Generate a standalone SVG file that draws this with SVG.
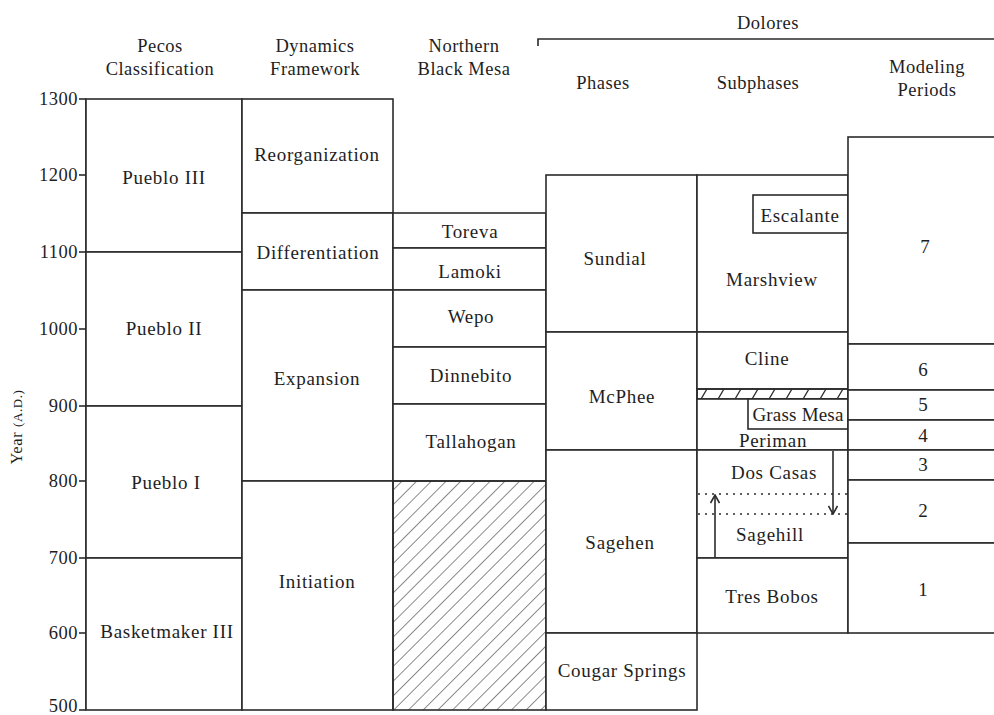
<svg xmlns="http://www.w3.org/2000/svg" width="994" height="715" viewBox="0 0 994 715">
<defs>
<style>
.b{fill:#fff;stroke:#2b2b2b;stroke-width:1.6}
.n{fill:none;stroke:#2b2b2b;stroke-width:1.6}
.t{font-family:"Liberation Serif","Times New Roman",serif;font-size:19px;fill:#1e1e1e;text-anchor:middle;letter-spacing:0.7px}
.h{font-family:"Liberation Serif","Times New Roman",serif;font-size:18.5px;fill:#1e1e1e;text-anchor:middle;letter-spacing:0.5px}
.y{font-family:"Liberation Serif","Times New Roman",serif;font-size:18.5px;fill:#1e1e1e;text-anchor:end;letter-spacing:0.5px}
.d{font-family:"Liberation Serif","Times New Roman",serif;font-size:19px;fill:#1e1e1e;text-anchor:middle}
.dot{fill:none;stroke:#2b2b2b;stroke-width:1.4;stroke-dasharray:2 5}
</style>
<pattern id="hatch" width="10.4" height="10.4" patternUnits="userSpaceOnUse" patternTransform="rotate(45)">
<line x1="0" y1="0" x2="0" y2="10.4" stroke="#2b2b2b" stroke-width="1.1"/>
</pattern>
<pattern id="band" x="697" y="389" width="17" height="10" patternUnits="userSpaceOnUse">
<line x1="4" y1="10" x2="10" y2="0" stroke="#2b2b2b" stroke-width="1.3"/>
</pattern>
<marker id="chev" viewBox="0 0 10 10" refX="9" refY="5" markerWidth="10" markerHeight="10" markerUnits="userSpaceOnUse" orient="auto">
<path d="M1,0.5 L9,5 L1,9.5" fill="none" stroke="#2b2b2b" stroke-width="1.6"/>
</marker>
</defs>
<rect x="0" y="0" width="994" height="715" fill="#fff"/>

<g id="headers">
<text class="h" x="160" y="52">Pecos</text>
<text class="h" x="160" y="75">Classification</text>
<text class="h" x="315" y="52">Dynamics</text>
<text class="h" x="315" y="75">Framework</text>
<text class="h" x="464" y="52">Northern</text>
<text class="h" x="464" y="75">Black Mesa</text>
<text class="h" x="768" y="29">Dolores</text>
<path class="n" d="M538,46 L538,39 L994,39"/>
<text class="h" x="603" y="89">Phases</text>
<text class="h" x="758" y="89">Subphases</text>
<text class="h" x="927" y="73">Modeling</text>
<text class="h" x="927" y="96">Periods</text>
</g>

<g id="axis">
<line class="n" x1="86" y1="99" x2="86" y2="710"/>
<line class="n" x1="79" y1="99" x2="86" y2="99"/>
<line class="n" x1="79" y1="175" x2="86" y2="175"/>
<line class="n" x1="79" y1="252" x2="86" y2="252"/>
<line class="n" x1="79" y1="329" x2="86" y2="329"/>
<line class="n" x1="79" y1="406" x2="86" y2="406"/>
<line class="n" x1="79" y1="481" x2="86" y2="481"/>
<line class="n" x1="79" y1="558" x2="86" y2="558"/>
<line class="n" x1="79" y1="633" x2="86" y2="633"/>
<line class="n" x1="79" y1="710" x2="86" y2="710"/>
<text class="y" x="78" y="105">1300</text>
<text class="y" x="78" y="181">1200</text>
<text class="y" x="78" y="258">1100</text>
<text class="y" x="78" y="335">1000</text>
<text class="y" x="78" y="412">900</text>
<text class="y" x="78" y="487">800</text>
<text class="y" x="78" y="564">700</text>
<text class="y" x="78" y="639">600</text>
<text class="y" x="78" y="712">500</text>
<text transform="translate(22,427) rotate(-90)" font-family="Liberation Serif, serif" font-size="16.5" fill="#1e1e1e" text-anchor="middle" letter-spacing="0.6">Year <tspan font-size="13">(A.D.)</tspan></text>
</g>

<g id="pueblo3"><rect class="b" x="86" y="99" width="156" height="153"/><text class="t" x="164" y="184">Pueblo III</text></g>
<g id="pueblo2"><rect class="b" x="86" y="252" width="156" height="154"/><text class="t" x="164" y="335">Pueblo II</text></g>
<g id="pueblo1"><rect class="b" x="86" y="406" width="156" height="152"/><text class="t" x="166" y="489">Pueblo I</text></g>
<g id="basketmaker3"><rect class="b" x="86" y="558" width="156" height="152"/><text class="t" x="167" y="638">Basketmaker III</text></g>

<g id="reorganization"><rect class="b" x="242" y="99" width="151" height="114"/><text class="t" x="317" y="161">Reorganization</text></g>
<g id="differentiation"><rect class="b" x="242" y="213" width="151" height="77"/><text class="t" x="318" y="259">Differentiation</text></g>
<g id="expansion"><rect class="b" x="242" y="290" width="151" height="191"/><text class="t" x="317" y="385">Expansion</text></g>
<g id="initiation"><rect class="b" x="242" y="481" width="151" height="229"/><text class="t" x="317" y="588">Initiation</text></g>

<g id="toreva"><rect class="b" x="393" y="213" width="153" height="35"/><text class="t" x="470" y="238">Toreva</text></g>
<g id="lamoki"><rect class="b" x="393" y="248" width="153" height="42"/><text class="t" x="470" y="278">Lamoki</text></g>
<g id="wepo"><rect class="b" x="393" y="290" width="153" height="57"/><text class="t" x="471" y="323">Wepo</text></g>
<g id="dinnebito"><rect class="b" x="393" y="347" width="153" height="57"/><text class="t" x="471" y="382">Dinnebito</text></g>
<g id="tallahogan"><rect class="b" x="393" y="404" width="153" height="77"/><text class="t" x="471" y="448">Tallahogan</text></g>
<g id="nbm-gap"><rect x="393" y="481" width="153" height="229" fill="url(#hatch)" stroke="#2b2b2b" stroke-width="1.6"/></g>

<g id="sundial"><rect class="b" x="546" y="175" width="151" height="157"/><text class="t" x="615" y="265">Sundial</text></g>
<g id="mcphee"><rect class="b" x="546" y="332" width="151" height="118"/><text class="t" x="622" y="403">McPhee</text></g>
<g id="sagehen"><rect class="b" x="546" y="450" width="151" height="183"/><text class="t" x="620" y="549">Sagehen</text></g>
<g id="cougar-springs"><rect class="b" x="546" y="633" width="151" height="77"/><text class="t" x="622" y="677">Cougar Springs</text></g>

<g id="marshview"><rect class="b" x="697" y="175" width="151" height="157"/><text class="t" x="772" y="286">Marshview</text></g>
<g id="escalante"><rect class="b" x="753" y="195" width="95" height="38"/><text class="t" x="800" y="222">Escalante</text></g>
<g id="cline"><rect class="b" x="697" y="332" width="151" height="57"/><text class="t" x="767" y="365">Cline</text></g>
<g id="gap-band"><rect x="697" y="389" width="151" height="10" fill="url(#band)" stroke="#2b2b2b" stroke-width="1.6"/></g>
<g id="periman"><rect class="b" x="697" y="399" width="151" height="51"/><text class="t" x="773" y="447">Periman</text></g>
<g id="grass-mesa"><rect class="b" x="748" y="399" width="100" height="30"/><text class="t" x="798" y="421" style="letter-spacing:0.2px">Grass Mesa</text></g>
<g id="dos-casas"><rect class="b" x="697" y="450" width="151" height="108"/><text class="t" x="774" y="479">Dos Casas</text><line class="dot" x1="698" y1="514" x2="848" y2="514"/></g>
<g id="sagehill"><line class="dot" x1="698" y1="494" x2="848" y2="494"/><text class="t" x="770" y="541">Sagehill</text></g>
<g id="tres-bobos"><rect class="b" x="697" y="558" width="151" height="75"/><text class="t" x="772" y="603">Tres Bobos</text></g>

<g id="period7"><rect class="b" x="848" y="137" width="152" height="207"/><text class="d" x="925" y="253">7</text></g>
<g id="period6"><rect class="b" x="848" y="344" width="152" height="46"/><text class="d" x="923" y="376">6</text></g>
<g id="period5"><rect class="b" x="848" y="390" width="152" height="30"/><text class="d" x="923" y="411">5</text></g>
<g id="period4"><rect class="b" x="848" y="420" width="152" height="30"/><text class="d" x="923" y="442">4</text></g>
<g id="period3"><rect class="b" x="848" y="450" width="152" height="30"/><text class="d" x="923" y="471">3</text></g>
<g id="period2"><rect class="b" x="848" y="480" width="152" height="63"/><text class="d" x="923" y="517">2</text></g>
<g id="period1"><rect class="b" x="848" y="543" width="152" height="90"/><text class="d" x="923" y="596">1</text></g>

<g id="connectors">
<line class="n" x1="833" y1="451" x2="833" y2="514" marker-end="url(#chev)"/>
<line class="n" x1="715" y1="558" x2="715" y2="495" marker-end="url(#chev)"/>
</g>
</svg>
